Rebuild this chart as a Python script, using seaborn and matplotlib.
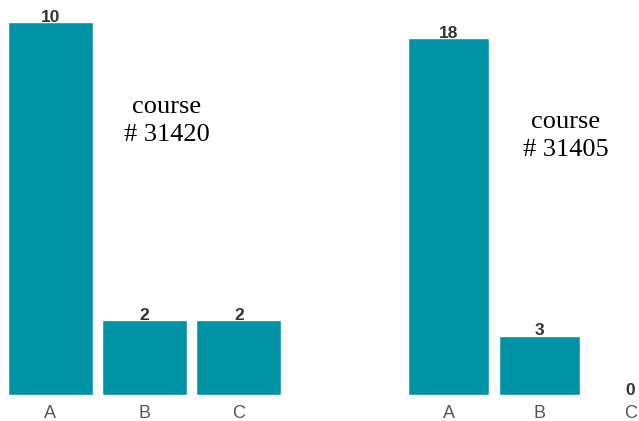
import matplotlib
matplotlib.use("Agg")
import matplotlib.pyplot as plt
import seaborn as sns

categories = ["A", "B", "C"]
course_31420 = [10, 2, 2]
course_31405 = [18, 3, 0]
course_names = ["course\n# 31420", "course\n# 31405"]

bar_color = "#0093a6"

sns.set_style("white")
plt.rcParams["font.family"] = ["Liberation Sans", "DejaVu Sans"]

fig = plt.figure(figsize=(6.39, 4.21), dpi=100)
W, H = 639, 421

def panel(x0, x1, ytop, values, name, text_xy):
    ax = fig.add_axes([x0 / W, 26 / H, (x1 - x0) / W, (395 - ytop) / H])
    sns.barplot(x=categories, y=values, color=bar_color, saturation=1,
                width=0.9, ax=ax)
    ax.set_xlim(-0.5, 2.5)
    ax.set_ylim(0, max(values))
    sns.despine(ax=ax, left=True, bottom=True)
    ax.set_yticks([])
    ax.set_ylabel("")
    ax.tick_params(axis="x", length=0, pad=7, labelsize=13, labelcolor="#555555")
    for c in ax.containers:
        ax.bar_label(c, padding=-2, fontsize=12.5, fontweight="bold", color="#333333")
    ax.text(text_xy[0], text_xy[1], name, transform=ax.transAxes,
            ha="center", va="center", fontsize=19, family="Liberation Serif",
            linespacing=1.3, color="black")
    ax.set_facecolor("none")
    return ax

panel(3, 286, 22, course_31420, course_names[0], ((167 - 3) / 283, (395 - 121) / 373))
panel(403, 676, 38, course_31405, course_names[1], ((566 - 403) / 273, (395 - 136) / 357))

fig.savefig("out.png", dpi=100)
